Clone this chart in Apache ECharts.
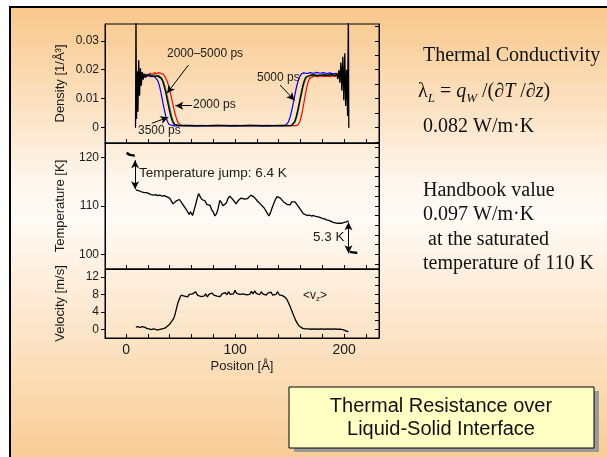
<!DOCTYPE html>
<html>
<head>
<meta charset="utf-8">
<script src="https://cdn.jsdelivr.net/npm/echarts@6/dist/echarts.min.js"></script>
<style>
  html, body { margin: 0; padding: 0; background: #fff; }
  #chart { width: 607px; height: 457px; }
</style>
</head>
<body>
<div id="chart"></div>
<script>
// x positions in Å, tick values
const xTicks = [0, 20, 40, 60, 80, 100, 120, 140, 160, 180, 200, 220]
const xLabels = [0, 100, 200]

const densLabels = [0, 0.01, 0.02, 0.03]
const densTicks = [-0.005, 0, 0.005, 0.01, 0.015, 0.02, 0.025, 0.03, 0.035]
const tempLabels = [100, 110, 120]
const tempTicks = [98, 100, 102, 104, 106, 108, 110, 112, 114, 116, 118, 120, 122]
const velLabels = [0, 4, 8, 12]
const velTicks = [0, 2, 4, 6, 8, 10, 12]

// density profiles [x, density]
const dens2000 = [[13,0.0178],[14.5,0.019],[16,0.0174],[18,0.0185],[20,0.0178],[22,0.0188],[24,0.0184],[26,0.019],[28,0.0186],[30,0.019],[32,0.0187],[34,0.0185],[36,0.0175],[37.5,0.0162],[39,0.0145],[40.5,0.0122],[42,0.0098],[43.5,0.0072],[45,0.0048],[46.5,0.0028],[48,0.0015],[49.5,0.0009],[51,0.0007],[60,0.0006],[70,0.0008],[80,0.0006],[90,0.0007],[100,0.0008],[110,0.0006],[120,0.0007],[130,0.0008],[140,0.0006],[150,0.0007],[156,0.0007],[158,0.0011],[159.5,0.0022],[161,0.0042],[162.5,0.0072],[164,0.0105],[165.5,0.0135],[167,0.0158],[168.5,0.0171],[170,0.0176],[172,0.0178],[175,0.0176],[178,0.0179],[181,0.0177],[184,0.0178],[187,0.0176],[190,0.0179],[193,0.0177]]
const dens3500 = [[13,0.0177],[14.5,0.0184],[16,0.0175],[18,0.0183],[20,0.0178],[22,0.0182],[24,0.0179],[26,0.0183],[28,0.018],[30,0.0181],[31.5,0.0178],[33,0.017],[34.5,0.0158],[36,0.0138],[37.5,0.0115],[39,0.0088],[40.5,0.0061],[42,0.0037],[43.5,0.002],[45,0.001],[46.5,0.0007],[52,0.0008],[62,0.0006],[72,0.0007],[82,0.0008],[92,0.0006],[102,0.0007],[112,0.0008],[122,0.0006],[132,0.0007],[142,0.0008],[152,0.0007],[153.5,0.001],[155,0.0019],[156.5,0.0036],[158,0.006],[159.5,0.0088],[161,0.0116],[162.5,0.0142],[164,0.0162],[165.5,0.0174],[167,0.0179],[170,0.0181],[173,0.0179],[176,0.0182],[179,0.018],[182,0.0183],[185,0.018],[188,0.0182],[191,0.0181],[193,0.0183]]
const dens5000 = [[13,0.0179],[14.5,0.0173],[16,0.0185],[18,0.0174],[20,0.0182],[22,0.0177],[24,0.018],[26,0.0176],[27.5,0.0172],[29,0.0163],[30.5,0.0147],[32,0.0122],[33.5,0.0092],[35,0.0064],[36.5,0.0039],[38,0.0021],[39.5,0.0011],[41,0.0008],[44,0.0006],[50,0.0007],[60,0.0008],[70,0.0006],[80,0.0007],[90,0.0008],[100,0.0006],[110,0.0007],[120,0.0008],[130,0.0006],[140,0.0007],[146,0.0007],[147.5,0.0011],[149,0.002],[150.5,0.0037],[152,0.006],[153.5,0.0087],[155,0.0117],[156.5,0.0143],[158,0.0163],[159.5,0.0178],[161,0.0186],[163,0.0189],[166,0.0187],[169,0.019],[172,0.0188],[175,0.0191],[178,0.0188],[181,0.019],[184,0.0187],[187,0.0189],[190,0.0186],[193,0.0188]]
const densAvg = [[8.7,0],[9.1,0.04],[9.6,0.003],[10.3,0.0195],[10.9,0.0055],[11.6,0.0233],[12.4,0.011],[13.2,0.0205],[14,0.0145],[14.8,0.0192],[15.7,0.0166],[16.6,0.0186],[17.6,0.0173],[18.8,0.0182],[20.2,0.0176],[21.5,0.0183],[23,0.0176],[24.5,0.0182],[26,0.0177],[27.5,0.0181],[29,0.0178],[30.5,0.0177],[32,0.0171],[33.5,0.0161],[35,0.0143],[36.5,0.0119],[38,0.0092],[39.5,0.0064],[41,0.004],[42.5,0.0022],[44,0.0012],[45.5,0.0008],[48,0.0007],[55,0.0008],[65,0.0006],[75,0.0007],[85,0.0008],[95,0.0006],[105,0.0007],[115,0.0008],[125,0.0006],[135,0.0007],[145,0.0008],[151.5,0.0007],[153,0.0011],[154.5,0.002],[156,0.0037],[157.5,0.0061],[159,0.0089],[160.5,0.0117],[162,0.0143],[163.5,0.0163],[165,0.0175],[166.5,0.018],[169,0.0181],[172,0.0183],[176,0.018],[180,0.0182],[184,0.0181],[188,0.0183],[190,0.0182],[192,0.0179],[193.2,0.0188],[194.2,0.0168],[195.2,0.0198],[196.1,0.0155],[197,0.0225],[197.9,0.0128],[198.8,0.0245],[199.7,0.0095],[200.6,0.0257],[201.4,0.0075],[202.3,0.02],[203.2,0.004],[203.9,0.04],[204.3,0]]

// temperature profile [x, K]
const tempLeft = [[0.5,120.9],[2,120.6],[3.5,120.5],[5,120.4],[6.5,120.4],[8,120.3]]
const tempMain = [[9.2,113.3],[10.5,112.9],[12,113.1],[13.5,112.9],[15,112.8],[17,112.7],[19,112.7],[21,112.5],[23,112.3],[25,112.2],[27,112.3],[29,112.1],[31,112.2],[33,112.0],[35,112.1],[37,111.9],[38.5,112.0],[40,111.6],[41.5,111.2],[43,110.4],[44.5,110.7],[46,111.0],[47.5,110.8],[49,111.3],[50.5,110.9],[52,110.3],[53.5,109.8],[55,109.3],[56.5,108.9],[58,108.2],[59,108.8],[60,109.2],[61,108.0],[62,108.4],[63.5,110.0],[65,111.3],[66.5,112.5],[68,111.9],[69.5,111.3],[71,110.9],[72.5,111.0],[74,110.3],[75.5,109.9],[77,110.1],[78.5,109.2],[80,108.7],[81.5,107.9],[83,108.4],[84.5,109.5],[86,111.1],[87.5,110.6],[89,110.0],[90.5,109.6],[92,110.6],[93.5,111.5],[95,112.0],[96.5,112.4],[98,111.3],[99.5,110.9],[101,110.4],[102.5,111.0],[104,111.3],[105.5,111.6],[107,111.2],[108.5,111.4],[110,111.1],[111.5,111.5],[113,111.8],[114.5,112.2],[116,112.5],[117.5,111.8],[119,111.4],[120.5,111.0],[122,110.6],[123.5,110.3],[125,110.0],[126.5,109.6],[128,109.2],[129.5,108.5],[131,107.9],[132.5,108.6],[134,109.6],[135.5,110.5],[137,111.3],[138.5,111.9],[140,112.1],[141.5,111.6],[143,111.2],[144.5,110.8],[146,110.4],[147.5,110.3],[149,110.6],[150.5,110.2],[152,110.8],[153.5,111.1],[155,110.8],[156.5,110.5],[158,109.9],[159.5,109.5],[161,108.9],[162.5,108.4],[164,108.2],[166,108.0],[168,108.1],[170,107.9],[172,108.0],[174,107.8],[176,107.7],[178,107.6],[180,107.4],[182,107.3],[184,107.1],[186,107.0],[188,106.8],[190,106.6],[192,106.5],[194,106.4],[196,106.4],[198,106.4],[200,106.6],[202,106.7],[204,106.9]]
const tempRight = [[205,100.5],[206.5,100.3],[208,100.4],[209.5,100.4],[211,100.3],[212,100.4]]

// velocity <vz> [x, m/s]
const velocity = [[9,0.5],[11,0.6],[13,0.4],[15,0.6],[17,0.5],[19,0.2],[21,0.1],[23,-0.1],[25,0.1],[27,0.0],[29,-0.2],[31,0.0],[33,0.1],[35,0.2],[37,0.5],[39,0.9],[41,1.5],[43,2.2],[44.5,3.0],[46,4.5],[47.5,6.0],[49,7.0],[50.5,7.8],[52,8.2],[53.5,7.6],[55,7.9],[56.5,7.4],[58,8.0],[59.5,7.6],[61,8.1],[62.5,7.7],[64,8.6],[65.5,7.8],[67,8.2],[68.5,7.5],[70,7.9],[71.5,7.6],[73,8.1],[74.5,7.4],[76,8.0],[77.5,7.7],[79,8.3],[80.5,7.8],[82,8.2],[83.5,7.6],[85,8.0],[86.5,7.5],[88,8.1],[89.5,7.8],[91,8.4],[92.5,7.9],[94,8.6],[95.5,8.0],[97,8.4],[98.5,8.1],[100,8.9],[101.5,8.2],[103,8.6],[104.5,8.0],[106,8.3],[107.5,8.1],[109,8.5],[110.5,7.9],[112,8.3],[113.5,8.0],[115,8.7],[116.5,8.1],[118,8.8],[119.5,8.2],[121,8.5],[122.5,7.9],[124,8.6],[125.5,8.1],[127,8.4],[128.5,7.8],[130,8.3],[131.5,7.9],[133,8.5],[134.5,7.8],[136,8.2],[137.5,8.0],[139,8.6],[140.5,7.9],[142,8.1],[143.5,7.7],[145,7.6],[146.5,7.2],[148,6.6],[149.5,5.8],[151,4.9],[152.5,3.9],[154,3.0],[155.5,2.1],[157,1.4],[158.5,0.8],[160,0.4],[162,0.2],[164,0.1],[167,0.1],[170,0.0],[173,0.1],[176,0.0],[179,0.1],[182,0.0],[185,0.1],[188,0.0],[191,0.1],[194,0.0],[197,0.0],[199,-0.1],[201,-0.3],[203,-0.5],[204,-0.6]]

const chart = echarts.init(document.getElementById('chart'))

const SANS = 'Liberation Sans, Arial, sans-serif'
const SERIF = 'Liberation Serif, Times New Roman, serif'
const grids = [
  { left: 105, top: 24, width: 274, height: 119 },
  { left: 105, top: 143, width: 274, height: 126 },
  { left: 105, top: 269, width: 274, height: 69 }
]
const yRanges = [[-0.0053, 0.0358], [96.97, 122.95], [-2, 13.8]]
const yLabelVals = [densLabels, tempLabels, velLabels]
const yTickVals = [densTicks, tempTicks, velTicks]
const yNames = ['Density [1/Å³]', 'Temperature [K]', 'Velocity [m/s]']

const axisLineStyle = { color: '#000', width: 1 }

const xAxes = grids.map((g, i) => ({
  gridIndex: i,
  type: 'value',
  min: -19.3,
  max: 232,
  axisLine: { onZero: false, lineStyle: axisLineStyle },
  axisTick: { inside: true, length: 4, customValues: xTicks, lineStyle: axisLineStyle },
  axisLabel: { show: i === 2, customValues: xLabels, margin: 5, color: '#1a1a1a', fontSize: 14, fontFamily: SANS },
  splitLine: { show: false },
  name: i === 2 ? 'Positon [Å]' : '',
  nameLocation: 'middle',
  nameGap: 22,
  nameTextStyle: { color: '#1a1a1a', fontSize: 13, fontFamily: SANS }
}))

const yAxes = []
grids.forEach((g, i) => {
  yAxes.push({
    gridIndex: i,
    type: 'value',
    position: 'left',
    min: yRanges[i][0],
    max: yRanges[i][1],
    axisLine: { onZero: false, lineStyle: axisLineStyle },
    axisTick: { inside: false, length: 4, customValues: yLabelVals[i], lineStyle: axisLineStyle },
    axisLabel: { customValues: yLabelVals[i], margin: 6, color: '#1a1a1a', fontSize: 12, fontFamily: SANS },
    splitLine: { show: false },
    name: yNames[i],
    nameLocation: 'middle',
    nameGap: 38,
    nameTextStyle: { color: '#1a1a1a', fontSize: 13, fontFamily: SANS }
  })
  yAxes.push({
    gridIndex: i,
    type: 'value',
    position: 'right',
    min: yRanges[i][0],
    max: yRanges[i][1],
    axisLine: { onZero: false, lineStyle: axisLineStyle },
    axisTick: { inside: true, length: 4, customValues: yTickVals[i], lineStyle: axisLineStyle },
    axisLabel: { show: false },
    splitLine: { show: false }
  })
})

function line (name, data, grid, color, width) {
  return {
    name: name,
    type: 'line',
    xAxisIndex: grid,
    yAxisIndex: grid * 2,
    data: data,
    showSymbol: false,
    lineStyle: { color: color, width: width },
    animation: false,
    silent: true
  }
}

function arrows (pairs, both) {
  return {
    silent: true,
    animation: false,
    symbol: both ? ['arrow', 'arrow'] : ['none', 'arrow'],
    symbolSize: [6, 8],
    label: { show: false },
    lineStyle: { color: '#000', width: 1, type: 'solid' },
    data: pairs.map(p => [{ coord: p[0] }, { coord: p[1] }])
  }
}

const avgSeries = line('2000–5000 ps', densAvg, 0, '#000', 1.3)
avgSeries.markLine = arrows([
  [[57.2, 0.0216], [37.6, 0.0119]],
  [[60.3, 0.0076], [45.2, 0.0076]],
  [[23.6, 0.0015], [38.8, 0.0036]],
  [[141.3, 0.0147], [154.6, 0.0094]]
], false)

const tempSeries = line('T', tempMain, 1, '#000', 1.3)
tempSeries.markLine = arrows([
  [[8.3, 119.4], [8.3, 113.4]],
  [[204, 106.6], [204, 100.2]]
], true)

const option = {
  backgroundColor: '#fff',
  textStyle: { fontFamily: SANS },
  grid: grids.map(g => Object.assign({ show: true, borderColor: '#000', borderWidth: 1, backgroundColor: 'transparent', containLabel: false }, g)),
  xAxis: xAxes,
  yAxis: yAxes,
  series: [
    line('2000 ps', dens2000, 0, '#ff0000', 1.2),
    line('3500 ps', dens3500, 0, '#108a10', 1.2),
    line('5000 ps', dens5000, 0, '#0000ff', 1.2),
    avgSeries,
    line('T left', tempLeft, 1, '#000', 2.5),
    tempSeries,
    line('T right', tempRight, 1, '#000', 2.5),
    line('<vz>', velocity, 2, '#000', 1.3)
  ],
  graphic: [
    {
      type: 'rect', z: -100, silent: true,
      shape: { x: 10, y: 7, width: 610, height: 470 },
      style: {
        fill: new echarts.graphic.LinearGradient(0, 0, 0, 1, [
          { offset: 0, color: '#f8c789' },
          { offset: 0.38, color: '#fef7ef' },
          { offset: 0.45, color: '#fffaf5' },
          { offset: 1, color: '#f8c98d' }
        ]),
        stroke: '#000',
        lineWidth: 2
      }
    },
    // annotations in the density panel
    { type: 'text', z: 50, left: 167, top: 48, style: { text: '2000–5000 ps', font: '12px ' + SANS, fill: '#1a1a1a' } },
    { type: 'text', z: 50, left: 193, top: 99, style: { text: '2000 ps', font: '12px ' + SANS, fill: '#1a1a1a' } },
    { type: 'text', z: 50, left: 138, top: 125, style: { text: '3500 ps', font: '12px ' + SANS, fill: '#1a1a1a' } },
    { type: 'text', z: 50, left: 257, top: 72, style: { text: '5000 ps', font: '12px ' + SANS, fill: '#1a1a1a' } },
    // temperature panel
    { type: 'text', z: 50, left: 139, top: 166, style: { text: 'Temperature jump: 6.4 K', font: '13.5px ' + SANS, fill: '#1a1a1a' } },
    { type: 'text', z: 50, left: 313, top: 230, style: { text: '5.3 K', font: '13.5px ' + SANS, fill: '#1a1a1a' } },
    // velocity panel
    {
      type: 'text', z: 50, left: 303, top: 290,
      style: {
        text: '{a|<v}{s|z}{a|>}',
        rich: {
          a: { font: '12px ' + SANS, fill: '#1a1a1a', lineHeight: 14 },
          s: { font: '8px ' + SANS, fill: '#1a1a1a', lineHeight: 8, verticalAlign: 'bottom' }
        }
      }
    },
    // right side text
    { type: 'text', z: 50, left: 423, top: 46, style: { text: 'Thermal Conductivity', font: '20px ' + SERIF, fill: '#111' } },
    {
      type: 'text', z: 50, left: 418, top: 82,
      style: {
        text: '{n|λ}{si|L}{n| = }{i|q}{si|W}{n| /(∂}{i|T}{n| /∂}{i|z}{n|)}',
        rich: {
          n: { font: '20px ' + SERIF, fill: '#111', lineHeight: 26 },
          i: { font: 'italic 20px ' + SERIF, fill: '#111', lineHeight: 26 },
          si: { font: 'italic 13px ' + SERIF, fill: '#111', lineHeight: 13, verticalAlign: 'bottom' }
        }
      }
    },
    { type: 'text', z: 50, left: 423, top: 117, style: { text: '0.082 W/m·K', font: '20px ' + SERIF, fill: '#111' } },
    {
      type: 'text', z: 50, left: 423, top: 178,
      style: { text: 'Handbook value\n0.097 W/m·K\n at the saturated\ntemperature of 110 K', font: '20px ' + SERIF, fill: '#111', lineHeight: 24.5 }
    },
    // bottom boxed caption
    { type: 'rect', z: 40, silent: true, shape: { x: 294, y: 391, width: 305, height: 61 }, style: { fill: '#9a9a9a' } },
    { type: 'rect', z: 41, silent: true, shape: { x: 289, y: 387, width: 305, height: 61 }, style: { fill: '#ffffc4', stroke: '#000', lineWidth: 1 } },
    {
      type: 'text', z: 42, x: 441, y: 418,
      style: { text: 'Thermal Resistance over\nLiquid-Solid Interface', font: '20px ' + SANS, fill: '#111', align: 'center', verticalAlign: 'middle', lineHeight: 23.5 }
    }
  ]
}

chart.setOption(option)
</script>
</body>
</html>
